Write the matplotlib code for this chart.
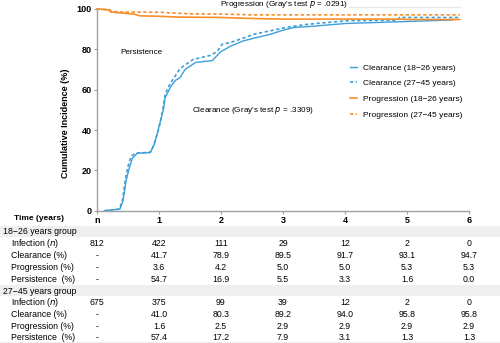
import numpy as np
import matplotlib.pyplot as plt
import matplotlib.transforms as mtransforms
from matplotlib.patches import Rectangle
from matplotlib.lines import Line2D

plt.rcParams['font.family'] = ['Liberation Sans', 'DejaVu Sans']

blue = "#3d9fd8"
orange = "#f78e2a"
grey = "#a0a0a0"

# clearance curves (cumulative %)
clear_young_t = [0.12, 0.37, 0.42, 0.47, 0.51, 0.57, 0.65, 0.86, 0.92, 0.97, 1.0, 1.07, 1.10,
                 1.18, 1.26, 1.34, 1.42, 1.59, 1.86, 1.96, 2.0, 2.15, 2.36, 2.58, 2.80, 3.0,
                 3.17, 3.5, 4.0, 4.5, 5.0, 5.74]
clear_young_v = [0, 0.8, 5, 15, 20, 26, 28.5, 28.8, 32.5, 38, 41.7, 50, 56,
                 61, 64.5, 66, 70, 73.5, 74.4, 77.7, 78.9, 81.5, 84.2, 85.9, 87.5, 89.5,
                 90.8, 91.5, 92.8, 93.3, 93.8, 94.6]
clear_old_t = [0.12, 0.36, 0.41, 0.46, 0.50, 0.55, 0.62, 0.86, 0.92, 1.0, 1.06, 1.10, 1.18,
               1.34, 1.55, 1.83, 1.94, 2.02, 2.15, 2.31, 2.53, 2.80, 3.07, 3.39, 4.04,
               4.85, 4.88, 5.85]
clear_old_v = [0, 0.8, 5, 16, 22, 27, 28.5, 29, 33, 41, 50, 58, 63,
               70.5, 75, 77, 79, 82.6, 83.4, 85, 87.5, 89.2, 91, 92.4, 94.2,
               94.4, 95.8, 95.8]

# progression curves (100 - cumulative %)
prog_young_t = [0, 0.10, 0.20, 0.22, 0.40, 0.60, 0.70, 1.0, 1.3, 2.0, 2.5, 3.0, 4.9, 5.0, 5.85]
prog_young_v = [100, 99.8, 99.5, 98.5, 98.0, 97.4, 96.6, 96.4, 96.0, 95.8, 95.3, 95.0, 95.0, 94.8, 94.8]
prog_old_t = [0, 0.20, 0.25, 0.40, 1.0, 1.5, 2.0, 2.5, 5.85]
prog_old_v = [100, 99.6, 98.8, 98.5, 98.4, 97.6, 97.5, 97.1, 97.1]

# risk table
years = [0, 1, 2, 3, 4, 5, 6]
xtick_labels = ["n", "1", "2", "3", "4", "5", "6"]
row_names = ["Infection ($\\it{n}$)", "Clearance (%)", "Progression (%)", "Persistence  (%)"]
young_rows = [
    ["812", "422", "111", "29", "12", "2", "0"],
    ["-", "41.7", "78.9", "89.5", "91.7", "93.1", "94.7"],
    ["-", "3.6", "4.2", "5.0", "5.0", "5.3", "5.3"],
    ["-", "54.7", "16.9", "5.5", "3.3", "1.6", "0.0"],
]
old_rows = [
    ["675", "375", "99", "39", "12", "2", "0"],
    ["-", "41.0", "80.3", "89.2", "94.0", "95.8", "95.8"],
    ["-", "1.6", "2.5", "2.9", "2.9", "2.9", "2.9"],
    ["-", "57.4", "17.2", "7.9", "3.1", "1.3", "1.3"],
]

W, H = 500, 343
fig = plt.figure(figsize=(5.0, 3.43), dpi=100)
ax = fig.add_axes([97 / W, 1 - 210.7 / H, 372 / W, 201.7 / H])

ax.plot(clear_young_t, clear_young_v, color=blue, lw=1.0)
ax.plot(clear_old_t, clear_old_v, color=blue, lw=1.2, ls=(0, (2, 1.5)))
ax.plot(prog_young_t, prog_young_v, color=orange, lw=1.2, clip_on=False)
ax.plot(prog_old_t, prog_old_v, color=orange, lw=1.2, ls=(0, (2, 1.5)), clip_on=False)

ax.set_xlim(0, 6)
ax.set_ylim(0, 100)
ax.set_xticks(years)
ax.set_xticklabels(xtick_labels)
ax.set_yticks([0, 20, 40, 60, 80, 100])
for s in ["top", "right"]:
    ax.spines[s].set_visible(False)
for s in ["left", "bottom"]:
    ax.spines[s].set_color(grey)
    ax.spines[s].set_linewidth(1.0)
ax.tick_params(colors=grey, length=2.5, width=0.8, pad=1.5)
for lab in ax.get_xticklabels() + ax.get_yticklabels():
    lab.set_color("black")
    lab.set_fontweight("bold")
    lab.set_fontsize(6.5)

ax.plot([2.0, 5.85], [101.1, 101.1], color="#e6e6e6", lw=0.8, clip_on=False, zorder=1)
ax.text(3.02, 102.2, "Progression (Gray's test $\\it{p}$ = .0291)", fontsize=5.9,
        ha="center", va="center", clip_on=False, zorder=3,
        bbox=dict(facecolor="white", edgecolor="none", pad=0.5))
ax.text(0.37, 78.5, "Persistence", fontsize=5.9, ha="left", va="center")
ax.text(1.53, 49.5, "Clearance (Gray's test $\\it{p}$ = .3309)", fontsize=5.9,
        ha="left", va="center")

handles = [
    Line2D([], [], color=blue, lw=1.0),
    Line2D([], [], color=blue, lw=1.2, ls=(0, (2, 1.5))),
    Line2D([], [], color=orange, lw=1.2),
    Line2D([], [], color=orange, lw=1.2, ls=(0, (2, 1.5))),
]
labels = ["Clearance (18\u221226 years)", "Clearance (27\u221245 years)",
          "Progression (18\u221226 years)", "Progression (27\u221245 years)"]
ax.legend(handles, labels, loc="upper left", bbox_to_anchor=(0.67, 0.745), frameon=False,
          fontsize=6.0, handlelength=0.9, handletextpad=0.7, labelspacing=0.95,
          borderaxespad=0)

fig.text(66 / W, 1 - 123 / H, "Cumulative Incidence (%)", rotation=90, fontsize=6.5,
         fontweight="bold", ha="center", va="center")
fig.text(14 / W, 1 - 219 / H, "Time (years)", fontsize=6.0, fontweight="bold",
         ha="left", va="center")

# table
band = "#efefef"
for top, bot in [(226, 237), (285, 296), (341.5, 343)]:
    fig.patches.append(Rectangle((0, 1 - bot / H), 1, (bot - top) / H, transform=fig.transFigure,
                                 facecolor=band, edgecolor="none", zorder=0))

trans = mtransforms.blended_transform_factory(ax.transData, fig.transFigure)
row_y = [244, 256, 268, 279.5]
for header, hy, rows, off in [("18\u221226 years group", 232, young_rows, 0),
                              ("27\u221245 years group", 291, old_rows, 58.5)]:
    fig.text(3 / W, 1 - hy / H, header, fontsize=6.3, ha="left", va="center")
    for name, vals, ry in zip(row_names, rows, row_y):
        y = 1 - (ry + off) / H
        fig.text(11 / W, y, name, fontsize=6.3, ha="left", va="center")
        for xv, v in zip(years, vals):
            ax.text(xv, y, v, transform=trans, fontsize=6.3, ha="center", va="center",
                    clip_on=False)

fig.savefig("out.png", dpi=100)
